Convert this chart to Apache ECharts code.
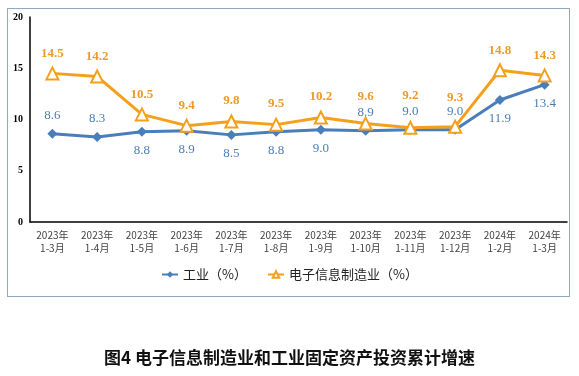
<!DOCTYPE html>
<html>
<head>
<meta charset="utf-8">
<script src="https://cdn.jsdelivr.net/npm/echarts@6/dist/echarts.min.js"></script>
<style>
html, body { margin: 0; padding: 0; background: #fff; }
#frame { position: absolute; left: 7px; top: 8px; width: 563px; height: 289px; border: 1px solid #8ea9c8; box-sizing: border-box; }
#main { position: absolute; left: 0; top: 0; width: 579px; height: 376px; }
</style>
</head>
<body>
<div id="frame"></div>
<div id="main"></div>
<script>
var categories = ['2023年\n1-3月','2023年\n1-4月','2023年\n1-5月','2023年\n1-6月','2023年\n1-7月','2023年\n1-8月',
                  '2023年\n1-9月','2023年\n1-10月','2023年\n1-11月','2023年\n1-12月','2024年\n1-2月','2024年\n1-3月'];
var industry = [8.6, 8.3, 8.8, 8.9, 8.5, 8.8, 9.0, 8.9, 9.0, 9.0, 11.9, 13.4];
var electronics = [14.5, 14.2, 10.5, 9.4, 9.8, 9.5, 10.2, 9.6, 9.2, 9.3, 14.8, 14.3];
// 工业标签在点上方还是下方
var industryLabelPos = ['top','top','bottom','bottom','bottom','bottom','bottom','top','top','top','bottom','bottom'];
// 电子信息标签离点的距离（重叠处抬高）
var electronicsLabelDist = [6, 6, 6, 7, 7, 7, 7, 13, 19, 16, 6, 6];
var yTicks = [0, 5, 10, 15, 20];

var blue = '#4a7ebb';
var orange = '#f5a01a';
var numFont = '"Liberation Serif", "DejaVu Serif", serif';

var myChart = echarts.init(document.getElementById('main'));
var option = {
    animation: false,
    title: {
        text: '图4 电子信息制造业和工业固定资产投资累计增速',
        left: 'center',
        top: 344,
        textStyle: { fontSize: 17, fontWeight: 'bold', color: '#111', fontFamily: '"Noto Sans CJK SC"' }
    },
    legend: {
        top: 263,
        left: 'center',
        itemGap: 20,
        itemWidth: 16,
        itemHeight: 8,
        textStyle: { fontSize: 13, color: '#222', fontFamily: '"Noto Sans CJK SC"' },
        data: ['工业（%）', '电子信息制造业（%）']
    },
    grid: { left: 30, right: 12, top: 17, height: 205 },
    xAxis: {
        type: 'category',
        data: categories,
        axisLine: { lineStyle: { color: '#000', width: 1.5 } },
        axisTick: { show: false },
        axisLabel: { fontSize: 10, color: '#444', lineHeight: 13, margin: 7, interval: 0, fontFamily: '"Noto Sans CJK SC"' }
    },
    yAxis: {
        type: 'value',
        min: 0, max: 20, interval: 5,
        axisLine: { show: true, lineStyle: { color: '#000', width: 1.5 } },
        axisTick: { show: false },
        splitLine: { show: false },
        axisLabel: {
            fontSize: 10, color: '#000', margin: 7, fontFamily: numFont, fontWeight: 'bold',
            formatter: function (v) { return yTicks.indexOf(v) >= 0 ? String(v) : ''; }
        }
    },
    series: [
        {
            name: '工业（%）',
            type: 'line',
            data: industry.map(function (v, i) {
                return { value: v, label: { position: industryLabelPos[i] } };
            }),
            symbol: 'diamond',
            symbolSize: 10,
            itemStyle: { color: blue },
            lineStyle: { color: blue, width: 3 },
            label: {
                show: true, color: blue, fontSize: 13, fontFamily: numFont, distance: 7,
                formatter: function (p) { return p.value.toFixed(1); }
            },
            z: 2
        },
        {
            name: '电子信息制造业（%）',
            type: 'line',
            data: electronics.map(function (v, i) {
                return { value: v, label: { distance: electronicsLabelDist[i] } };
            }),
            symbol: 'triangle',
            symbolSize: 12,
            itemStyle: { color: '#fff', borderColor: orange, borderWidth: 2 },
            lineStyle: { color: orange, width: 3 },
            label: {
                show: true, position: 'top', color: '#ee9a2a', fontSize: 13, fontFamily: numFont, fontWeight: 'bold',
                formatter: function (p) { return p.value.toFixed(1); }
            },
            z: 3
        }
    ]
};
myChart.setOption(option);
</script>
</body>
</html>
